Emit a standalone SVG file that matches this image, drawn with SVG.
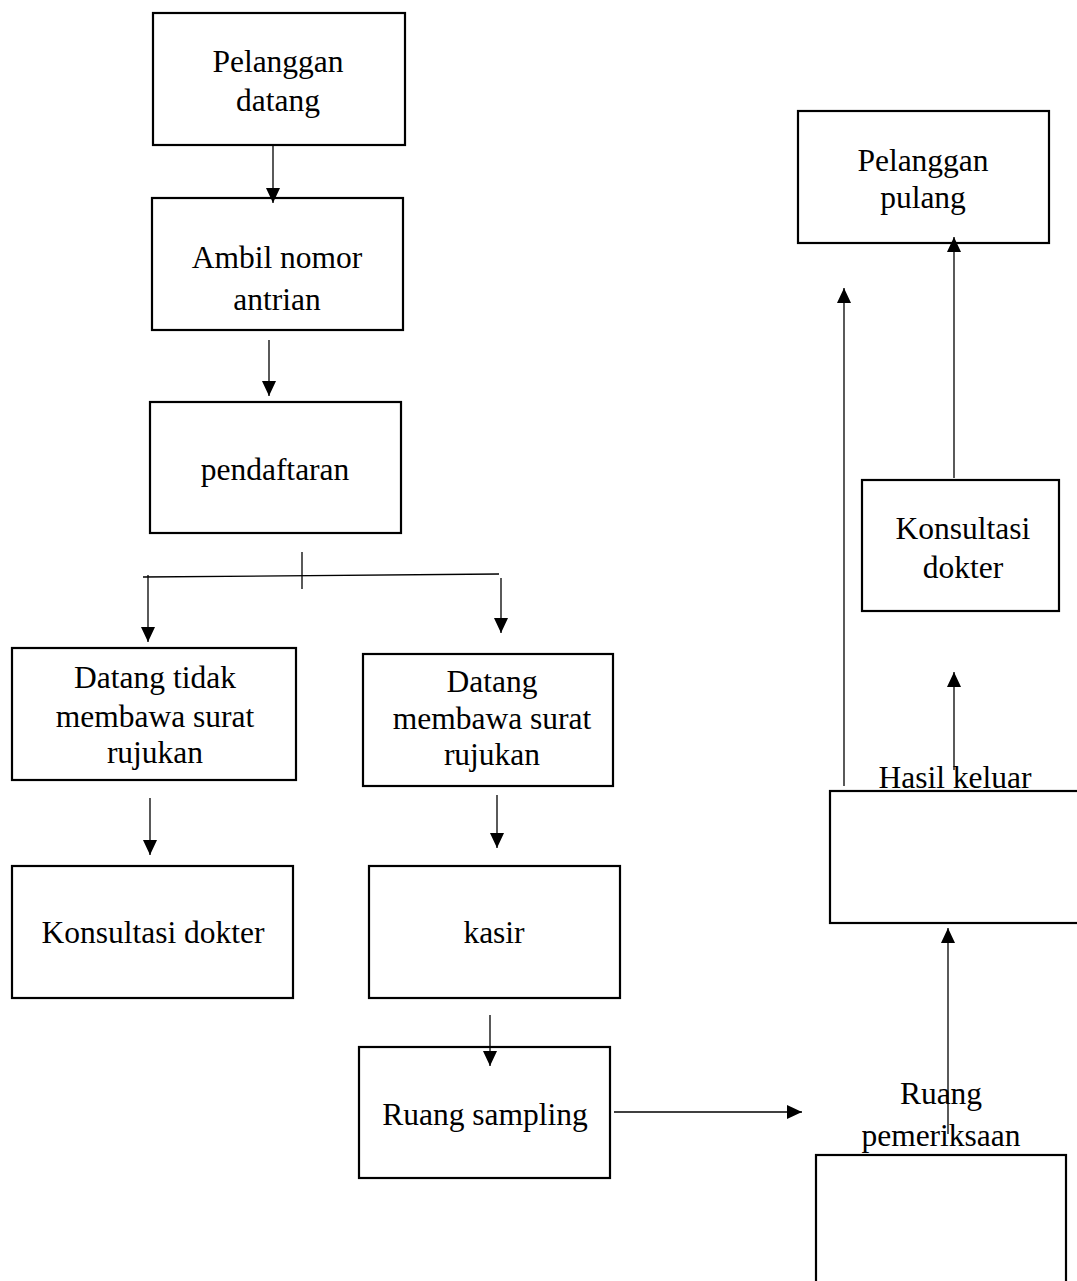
<svg xmlns="http://www.w3.org/2000/svg" width="1077" height="1281" viewBox="0 0 1077 1281">
<style>
.box{fill:#fff;stroke:#000;stroke-width:2.2}
.t{font-family:"Liberation Serif","Times New Roman",serif;font-size:31.5px;fill:#000;text-anchor:middle}
.c{stroke:#000;stroke-width:1.3;fill:none}
.a{marker-end:url(#ah)}
</style>
<defs>
<marker id="ah" viewBox="0 0 15 14" refX="15" refY="7" markerWidth="15" markerHeight="14" markerUnits="userSpaceOnUse" orient="auto">
<path d="M0,0 L15,7 L0,14 Z" fill="#000"/>
</marker>
</defs>
<rect width="1077" height="1281" fill="#fff"/>
<g id="n-pelanggan-datang"><rect class="box" x="153" y="13" width="252" height="132"/><text class="t" x="278" y="72">Pelanggan</text><text class="t" x="278" y="111">datang</text></g>
<g id="n-ambil-nomor"><rect class="box" x="152" y="198" width="251" height="132"/><text class="t" x="277" y="268">Ambil nomor</text><text class="t" x="277" y="310">antrian</text></g>
<g id="n-pendaftaran"><rect class="box" x="150" y="402" width="251" height="131"/><text class="t" x="275" y="480">pendaftaran</text></g>
<g id="n-tidak-rujukan"><rect class="box" x="12" y="648" width="284" height="132"/><text class="t" x="155" y="688">Datang tidak</text><text class="t" x="155" y="727">membawa surat</text><text class="t" x="155" y="763">rujukan</text></g>
<g id="n-bawa-rujukan"><rect class="box" x="363" y="654" width="250" height="132"/><text class="t" x="492" y="692">Datang</text><text class="t" x="492" y="729">membawa surat</text><text class="t" x="492" y="765">rujukan</text></g>
<g id="n-konsultasi-kiri"><rect class="box" x="12" y="866" width="281" height="132"/><text class="t" x="153" y="943">Konsultasi dokter</text></g>
<g id="n-kasir"><rect class="box" x="369" y="866" width="251" height="132"/><text class="t" x="494" y="943">kasir</text></g>
<g id="n-ruang-sampling"><rect class="box" x="359" y="1047" width="251" height="131"/><text class="t" x="485" y="1125">Ruang sampling</text></g>
<g id="n-ruang-pemeriksaan"><rect class="box" x="816" y="1155" width="250" height="140"/><text class="t" x="941" y="1104">Ruang</text><text class="t" x="941" y="1146">pemeriksaan</text></g>
<g id="n-hasil-keluar"><rect class="box" x="830" y="791" width="260" height="132"/><text class="t" x="955" y="788">Hasil keluar</text></g>
<g id="n-konsultasi-kanan"><rect class="box" x="862" y="480" width="197" height="131"/><text class="t" x="963" y="539">Konsultasi</text><text class="t" x="963" y="578">dokter</text></g>
<g id="n-pelanggan-pulang"><rect class="box" x="798" y="111" width="251" height="132"/><text class="t" x="923" y="171">Pelanggan</text><text class="t" x="923" y="208">pulang</text></g>
<g id="connectors">
<line class="c a" x1="273" y1="145" x2="273" y2="203"/>
<line class="c a" x1="269" y1="340" x2="269" y2="396"/>
<line class="c" x1="302" y1="552" x2="302" y2="589"/>
<line class="c" x1="143" y1="577" x2="499" y2="574"/>
<line class="c a" x1="148" y1="575" x2="148" y2="642"/>
<line class="c a" x1="501" y1="578" x2="501" y2="633"/>
<line class="c a" x1="150" y1="798" x2="150" y2="855"/>
<line class="c a" x1="497" y1="795" x2="497" y2="848"/>
<line class="c a" x1="490" y1="1015" x2="490" y2="1066"/>
<line class="c a" x1="614" y1="1112" x2="802" y2="1112"/>
<line class="c a" x1="948" y1="1134" x2="948" y2="928"/>
<line class="c a" x1="954" y1="770" x2="954" y2="672"/>
<line class="c a" x1="954" y1="478" x2="954" y2="237"/>
<line class="c a" x1="844" y1="786" x2="844" y2="288"/>
</g>
</svg>
